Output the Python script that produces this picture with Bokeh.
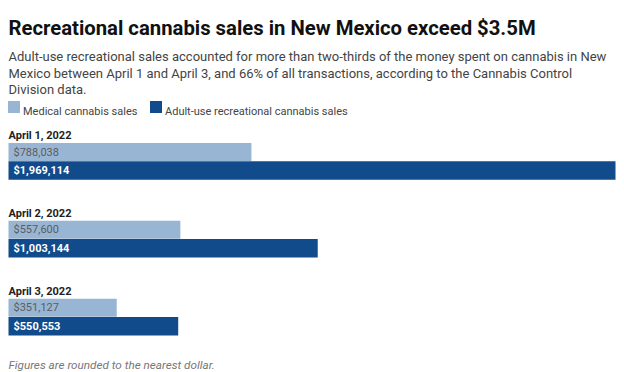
from bokeh.plotting import figure
from bokeh.models import ColumnDataSource, Range1d, Label
from bokeh.core.properties import value
from bokeh.embed import file_html
from bokeh.resources import INLINE

# ---- data ----
dates = ["April 1, 2022", "April 2, 2022", "April 3, 2022"]
medical = [788038, 557600, 351127]
recreational = [1969114, 1003144, 550553]
series_names = ["Medical cannabis sales", "Adult-use recreational cannabis sales"]
title_text = "Recreational cannabis sales in New Mexico exceed $3.5M"
subtitle_lines = [
    "Adult-use recreational sales accounted for more than two-thirds of the money spent on cannabis in New",
    "Mexico between April 1 and April 3, and 66% of all transactions, according to the Cannabis Control",
    "Division data.",
]
footer_text = "Figures are rounded to the nearest dollar."

# ---- layout ----
W, H = 624, 372
FONT = "Roboto"
LIGHT = "#98b6d4"
DARK = "#124b8b"
LEFT, RIGHT = 8, 615  # pixel span of the longest bar
dpp = max(recreational) / (RIGHT - LEFT)  # dollars per pixel

group_tops = [142.5, 220.2, 298.2]
med_h, rec_h = 18.0, 18.5
med_y = [t + med_h / 2 for t in group_tops]
rec_y = [t + med_h + 0.3 + rec_h / 2 for t in group_tops]
date_y = [t - 7.3 for t in group_tops]

p = figure(width=W, height=H, output_backend="svg", toolbar_location=None,
           x_range=Range1d(-LEFT * dpp, (W - LEFT) * dpp), y_range=Range1d(H, 0),
           min_border=0, outline_line_color=None)
p.axis.visible = False
p.grid.visible = False
p.background_fill_color = "white"
p.border_fill_color = "white"

src = ColumnDataSource(dict(
    date=dates, med=medical, rec=recreational,
    med_y=med_y, rec_y=rec_y, date_y=date_y,
    med_lbl=[f"${v:,}" for v in medical],
    rec_lbl=[f"${v:,}" for v in recreational],
    zero=[0] * len(dates),
))

p.hbar(y="med_y", left=0, right="med", height=med_h, source=src,
       fill_color=LIGHT, line_color=None)
p.hbar(y="rec_y", left=0, right="rec", height=rec_h, source=src,
       fill_color=DARK, line_color=None)

p.text(x="zero", y="med_y", text="med_lbl", source=src, x_offset=5,
       text_font=value(FONT), text_font_size="11px", text_color="#5c5c5c",
       text_baseline="middle", text_align="left")
p.text(x="zero", y="rec_y", text="rec_lbl", source=src, x_offset=5,
       text_font=value(FONT), text_font_size="11px", text_font_style="bold",
       text_color="white", text_baseline="middle", text_align="left")
p.text(x="zero", y="date_y", text="date", source=src, x_offset=0,
       text_font=value(FONT), text_font_size="11px", text_font_style="bold",
       text_color="#222222", text_baseline="alphabetic", text_align="left")

# title, subtitle
p.add_layout(Label(x=LEFT, y=27.5, x_units="screen", y_units="data", text=title_text,
                   text_font=FONT, text_font_size="20.3px", text_font_style="bold",
                   text_color="#111111", text_baseline="alphabetic"))
for i, line in enumerate(subtitle_lines):
    p.add_layout(Label(x=LEFT, y=56 + i * 16.7, x_units="screen", y_units="data", text=line,
                       text_font=FONT, text_font_size="13px", text_color="#444444",
                       text_baseline="alphabetic"))

# legend
leg_x = [7.5, 149.5]
leg_colors = [LIGHT, DARK]
for lx, col, name in zip(leg_x, leg_colors, series_names):
    p.quad(left=(lx - LEFT) * dpp, right=(lx - LEFT + 12) * dpp, top=100.5, bottom=112.5,
           fill_color=col, line_color=None)
    p.add_layout(Label(x=lx + 15, y=110.5, x_units="screen", y_units="data", text=name,
                       text_font=FONT, text_font_size="11px", text_color="#444444",
                       text_baseline="alphabetic"))

# footer
p.add_layout(Label(x=LEFT, y=364, x_units="screen", y_units="data", text=footer_text,
                   text_font=FONT, text_font_size="11.7px", text_font_style="italic",
                   text_color="#777777", text_baseline="alphabetic"))

open("out.html", "w").write(file_html(p, INLINE))
